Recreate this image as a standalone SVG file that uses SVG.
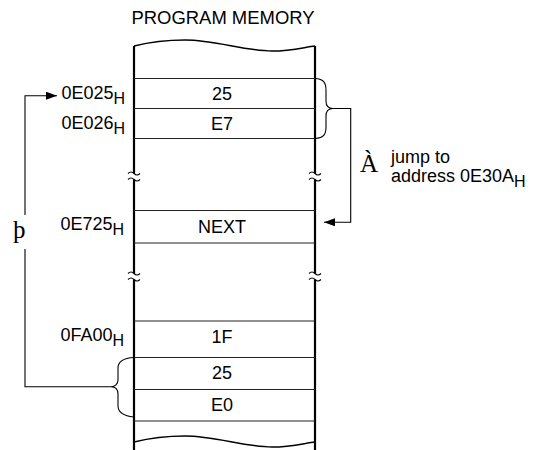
<svg xmlns="http://www.w3.org/2000/svg" width="539" height="450" viewBox="0 0 539 450">
<defs>
<style>
.t{font-family:"Liberation Sans",Arial,sans-serif;font-size:18px;fill:#000}
.s{font-size:16px}
.sym{font-family:"Liberation Serif","Times New Roman",serif;font-size:25px;fill:#000}
.col{stroke:#000;stroke-width:2.2;fill:none}
.row{stroke:#222;stroke-width:1.1;fill:none}
.wave{stroke:#000;stroke-width:1.5;fill:none}
.brk{stroke:#000;stroke-width:1.1;fill:none}
.con{stroke:#000;stroke-width:1.1;fill:none}
</style>
<marker id="ah" viewBox="0 0 11 8" refX="11" refY="4" markerWidth="11" markerHeight="8" markerUnits="userSpaceOnUse" orient="auto">
<path d="M0,0 L11,4 L0,8 Z" fill="#000"/>
</marker>
<path id="tilde" d="M-6,0 q3,-3 6,0 t6,0"/>
</defs>
<rect width="539" height="450" fill="#fff"/>

<g id="memory">
<text class="t" x="223" y="24" text-anchor="middle" textLength="183" lengthAdjust="spacingAndGlyphs">PROGRAM MEMORY</text>
<path class="wave" d="M134,46 C150,42 168,40 185,40 C215,40 245,51 272,51 C292,51 305,47 315,46"/>
<path class="wave" d="M134,442 C150,438 168,436 185,436 C215,436 245,447 272,447 C292,447 305,443 315,442"/>
<path class="col" d="M134,46 V173.5 M134,179.5 V273.5 M134,279.5 V450"/>
<path class="col" d="M315,46 V173.5 M315,179.5 V273.5 M315,279.5 V450"/>
<g class="brk">
<use href="#tilde" x="134" y="173.5"/><use href="#tilde" x="134" y="179.5"/>
<use href="#tilde" x="315" y="173.5"/><use href="#tilde" x="315" y="179.5"/>
<use href="#tilde" x="134" y="273.5"/><use href="#tilde" x="134" y="279.5"/>
<use href="#tilde" x="315" y="273.5"/><use href="#tilde" x="315" y="279.5"/>
</g>
</g>

<g id="cell-0E025">
<line class="row" x1="134" y1="78.5" x2="315" y2="78.5"/>
<line class="row" x1="134" y1="108.5" x2="315" y2="108.5"/>
<text class="t" x="222" y="99.5" text-anchor="middle">25</text>
<text class="t" x="125" y="98.5" text-anchor="end">0E025<tspan class="s" dy="5">H</tspan></text>
</g>

<g id="cell-0E026">
<line class="row" x1="134" y1="138.5" x2="315" y2="138.5"/>
<text class="t" x="222" y="129.5" text-anchor="middle">E7</text>
<text class="t" x="125" y="128.5" text-anchor="end">0E026<tspan class="s" dy="5">H</tspan></text>
</g>

<g id="cell-0E725">
<line class="row" x1="134" y1="210.5" x2="315" y2="210.5"/>
<line class="row" x1="134" y1="243" x2="315" y2="243"/>
<text class="t" x="222" y="232.5" text-anchor="middle">NEXT</text>
<text class="t" x="124" y="229.5" text-anchor="end">0E725<tspan class="s" dy="5">H</tspan></text>
</g>

<g id="cell-0FA00">
<line class="row" x1="134" y1="321" x2="315" y2="321"/>
<line class="row" x1="134" y1="357.5" x2="315" y2="357.5"/>
<text class="t" x="222" y="342.5" text-anchor="middle">1F</text>
<text class="t" x="124" y="341" text-anchor="end">0FA00<tspan class="s" dy="5">H</tspan></text>
</g>

<g id="cell-25">
<line class="row" x1="134" y1="389.5" x2="315" y2="389.5"/>
<text class="t" x="222" y="378.5" text-anchor="middle">25</text>
</g>

<g id="cell-E0">
<line class="row" x1="134" y1="421" x2="315" y2="421"/>
<text class="t" x="222" y="411" text-anchor="middle">E0</text>
</g>

<g id="connectors">
<path class="con" d="M315,78.5 C324,79 326,83 326,90 V101 C326,106 329,108.5 333,108.5 C329,108.5 326,111 326,116 V127 C326,134 324,138 315,138.5"/>
<path class="con" d="M333,108.5 H350.7 V222.3 H324" marker-end="url(#ah)"/>
<path class="con" d="M134,357.5 C125,358 118,361 118,368 V380 C118,384 115,386.7 111,386.7 C115,386.7 118,389 118,394 V406 C118,413 125,416 134,417"/>
<path class="con" d="M111,386.7 H25 V249 M25,215 V95.7 H57" marker-end="url(#ah)"/>
</g>

<g id="labels">
<text class="sym" x="13" y="238">þ</text>
<text class="sym" x="360" y="171.5">À</text>
<text class="t" x="391" y="163">jump to</text>
<text class="t" x="391" y="182">address 0E30A<tspan class="s" dy="5">H</tspan></text>
</g>
</svg>
